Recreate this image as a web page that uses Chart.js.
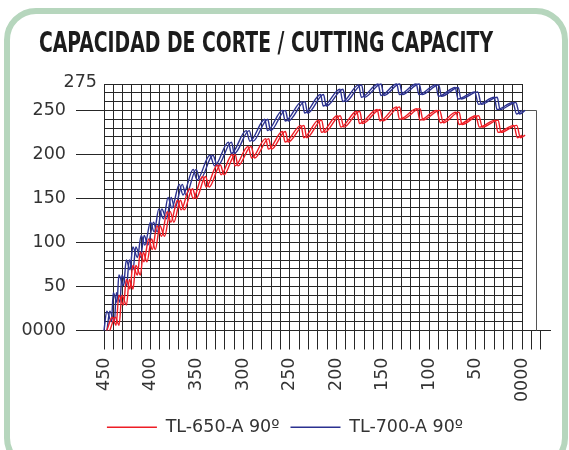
<!DOCTYPE html>
<html>
<head>
<meta charset="utf-8">
<title>Capacidad de corte</title>
<script src="https://cdn.jsdelivr.net/npm/chart.js@4.4.1/dist/chart.umd.min.js"></script>
<style>
  html, body { margin: 0; padding: 0; background: #fff; }
  #wrap { position: relative; width: 569px; height: 450px; overflow: hidden; }
  #frame {
    position: absolute; left: 4px; top: 8px; width: 552px; height: 450px;
    border: 6px solid #b6d6bd; border-radius: 32px;
  }
  #title {
    position: absolute; left: 39px; top: 28px; margin: 0;
    font: bold 29px/29px 'Liberation Sans Narrow', 'DejaVu Sans Condensed', 'Liberation Sans', sans-serif;
    color: #1c1c1c; white-space: nowrap; transform-origin: 0 0;
  }
  #chart { position: absolute; left: 0; top: 0; }
</style>
</head>
<body>
<div id="wrap">
  <div id="frame"></div>
  <canvas id="chart" width="569" height="450"></canvas>
  <h1 id="title">CAPACIDAD DE CORTE / CUTTING CAPACITY</h1>
</div>
<script>
// series: angle (x) and cutting value (y)
const tl650Angle = [447, 441, 437, 434, 429, 426, 422, 419, 414, 411, 407, 402, 398, 393, 388,
  382, 378, 371, 367, 358, 354, 344, 340, 328, 324, 312, 309, 295, 291, 276, 273, 258, 255,
  238, 235, 219, 216, 199, 195, 178, 175, 156, 153, 135, 132, 113, 110, 92, 88, 71, 68,
  50, 46, 29, 26, 9, 5, 0];
const tl650Cut = [0, 15, 6, 40, 29, 58, 47, 74, 63, 89, 78, 104, 92, 119, 107,
  135, 123, 148, 137, 161, 150, 175, 163, 188, 177, 200, 187, 209, 196, 218, 206, 226, 214,
  233, 219, 239, 225, 244, 231, 249, 235, 251, 238, 254, 240, 252, 239, 250, 236, 248, 234,
  244, 231, 239, 225, 233, 219, 222];

const tl700Angle = [450, 447, 442, 440, 436, 434, 429, 426, 422, 419, 414, 410, 406, 400, 396,
  391, 386, 381, 377, 369, 365, 354, 350, 336, 331, 316, 313, 297, 293, 277, 274, 258, 255,
  237, 234, 217, 214, 196, 193, 176, 173, 155, 152, 135, 132, 114, 111, 93, 90, 72, 69,
  51, 47, 30, 27, 10, 6, 0];
const tl700Cut = [0, 22, 10, 43, 32, 63, 51, 80, 69, 95, 83, 108, 97, 123, 112,
  138, 127, 151, 139, 166, 154, 183, 171, 199, 187, 214, 201, 227, 215, 240, 227, 250, 238,
  260, 247, 268, 255, 274, 260, 279, 265, 280, 267, 280, 268, 280, 268, 279, 266, 276, 263,
  271, 257, 265, 251, 259, 246, 250];

const seriesNames = ['TL-650-A 90º', 'TL-700-A 90º'];
const seriesColors = ['#ee1d25', '#2b3190'];

const xTickValues = [450, 400, 350, 300, 250, 200, 150, 100, 50, 0];
const xTickLabels = ['450', '400', '350', '300', '250', '200', '150', '100', '50', '0000'];
const yTickValues = [0, 50, 100, 150, 200, 250];
const yTickLabels = ['0000', '50', '100', '150', '200', '250'];
const yTopLabel = '275';

const gridColor = '#262626';
const textColor = '#333';
const tickFont = { family: "'DejaVu Sans', sans-serif", size: 17.5 };

// squeeze the heading into its original width
const titleEl = document.getElementById('title');
const titleW = titleEl.getBoundingClientRect().width;
titleEl.style.transform = `scale(${454 / titleW}, 1)`;

function toPoints(xs, ys) {
  return xs.map((x, i) => ({ x: x, y: ys[i] }));
}

// draws each line a second time a few pixels to the right (hollow look)
const doubleLine = {
  id: 'doubleLine',
  beforeDatasetDraw(chart, args) {
    const ctx = chart.ctx;
    ctx.save();
    ctx.shadowColor = args.meta.dataset.options.borderColor;
    ctx.shadowOffsetX = 3;
    ctx.shadowOffsetY = 0;
    ctx.shadowBlur = 0;
  },
  afterDatasetDraw(chart) {
    chart.ctx.restore();
  }
};

// horizontal grid stops at 0, small box at the right end, top label
const gridExtras = {
  id: 'gridExtras',
  beforeDatasetsDraw(chart) {
    const { ctx, chartArea, scales: { x, y } } = chart;
    const align = p => Math.round(p - 0.5) + 0.5;
    const right = align(x.getPixelForValue(0));
    ctx.save();
    ctx.strokeStyle = gridColor;
    ctx.lineWidth = 1;
    ctx.beginPath();
    y.ticks.forEach(t => {
      if (t.value <= 0) return;
      const py = align(y.getPixelForValue(t.value));
      ctx.moveTo(chartArea.left, py);
      ctx.lineTo(right, py);
    });
    ctx.stroke();

    ctx.strokeStyle = '#555';
    ctx.beginPath();
    const boxX = align(x.getPixelForValue(-16));
    const boxY = align(y.getPixelForValue(250));
    ctx.moveTo(right, boxY);
    ctx.lineTo(boxX, boxY);
    ctx.lineTo(boxX, align(y.getPixelForValue(0)));
    ctx.stroke();
    ctx.restore();
  },
  afterDraw(chart) {
    const { ctx, chartArea } = chart;
    ctx.save();
    ctx.fillStyle = textColor;
    ctx.font = `${tickFont.size}px ${tickFont.family}`;
    ctx.textAlign = 'right';
    ctx.textBaseline = 'middle';
    ctx.fillText(yTopLabel, chartArea.left - 7, chartArea.top - 2);
    ctx.restore();
  }
};

new Chart(document.getElementById('chart'), {
  type: 'line',
  data: {
    datasets: [
      {
        label: seriesNames[0],
        data: toPoints(tl650Angle, tl650Cut),
        borderColor: seriesColors[0],
        backgroundColor: seriesColors[0],
        borderWidth: 1.4,
        pointRadius: 0,
        cubicInterpolationMode: 'monotone',
        clip: false
      },
      {
        label: seriesNames[1],
        data: toPoints(tl700Angle, tl700Cut),
        borderColor: seriesColors[1],
        backgroundColor: seriesColors[1],
        borderWidth: 1.4,
        pointRadius: 0,
        cubicInterpolationMode: 'monotone',
        clip: false
      }
    ]
  },
  options: {
    responsive: false,
    animation: false,
    events: [],
    layout: { autoPadding: false, padding: { top: 84, right: 19, bottom: 4, left: 20 } },
    plugins: {
      title: { display: false },
      tooltip: { enabled: false },
      legend: {
        position: 'bottom',
        labels: {
          usePointStyle: true,
          pointStyle: 'line',
          pointStyleWidth: 50,
          padding: 11,
          color: textColor,
          font: tickFont
        }
      }
    },
    scales: {
      x: {
        type: 'linear',
        reverse: true,
        min: -30,
        max: 450,
        afterFit(scale) {
          scale.height = 77;
          scale.paddingLeft = 0;
          scale.paddingRight = 0;
        },
        border: { display: true, color: gridColor, width: 1 },
        grid: {
          color: c => (c.tick && c.tick.value >= 0 ? gridColor : 'rgba(0,0,0,0)'),
          tickColor: c => (c.tick && c.tick.value > -30 ? gridColor : 'rgba(0,0,0,0)'),
          tickLength: 19,
          lineWidth: 1
        },
        ticks: {
          stepSize: 10,
          autoSkip: false,
          minRotation: 90,
          maxRotation: 90,
          padding: 8,
          color: textColor,
          font: tickFont,
          callback: v => {
            const i = xTickValues.indexOf(v);
            return i >= 0 ? xTickLabels[i] : '';
          }
        }
      },
      y: {
        min: 0,
        max: 280,
        afterFit(scale) { scale.width = 84; },
        border: { display: true, color: gridColor, width: 1 },
        grid: {
          drawOnChartArea: false,
          tickColor: c => (c.tick && yTickValues.includes(c.tick.value) ? gridColor : 'rgba(0,0,0,0)'),
          tickLength: 28
        },
        ticks: {
          stepSize: 10,
          autoSkip: false,
          padding: 10,
          color: textColor,
          font: tickFont,
          callback: v => {
            const i = yTickValues.indexOf(v);
            return i >= 0 ? yTickLabels[i] : '';
          }
        }
      }
    }
  },
  plugins: [doubleLine, gridExtras]
});
</script>
</body>
</html>
